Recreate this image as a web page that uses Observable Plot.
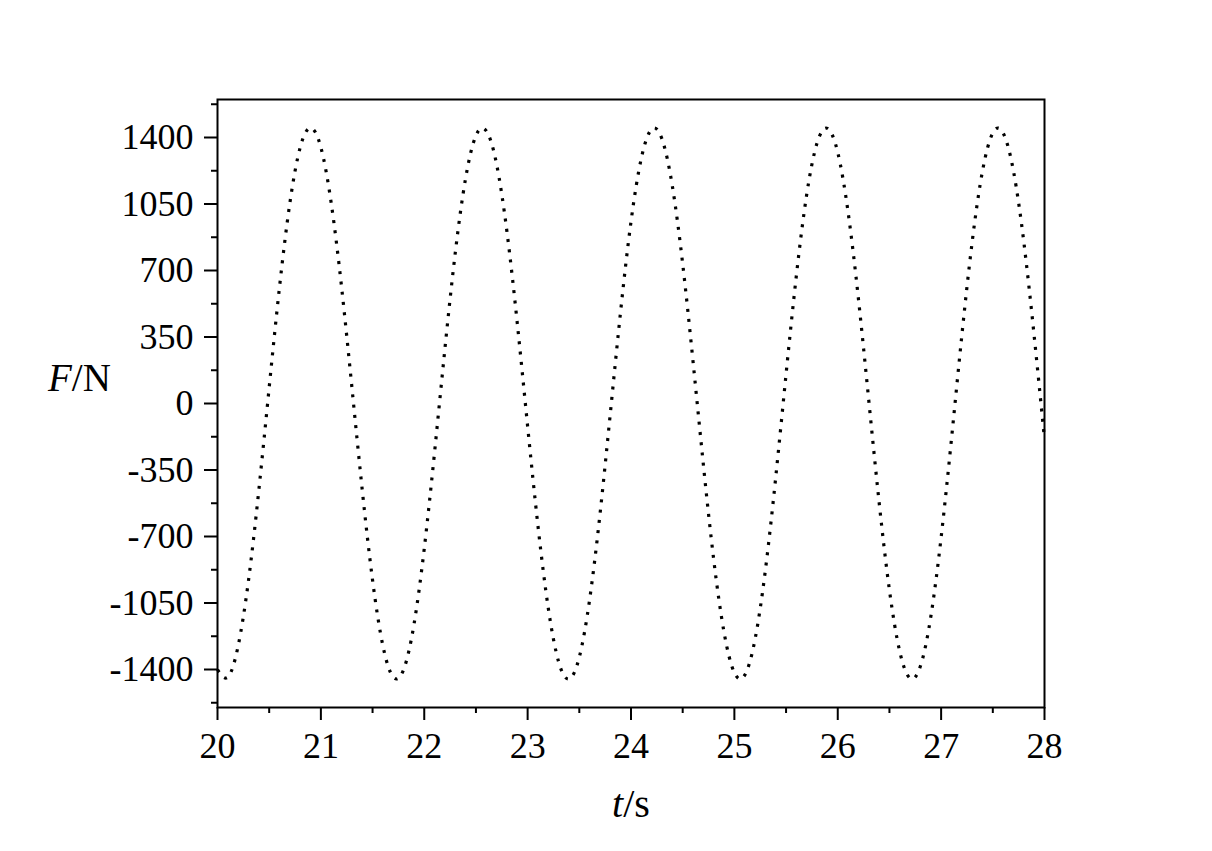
<!DOCTYPE html>
<html><head><meta charset="utf-8">
<script src="https://cdn.jsdelivr.net/npm/d3@7"></script>
<script src="https://cdn.jsdelivr.net/npm/@observablehq/plot@0.6"></script>
<style>body{margin:0;background:#fff;} svg{display:block}</style>
</head><body><div id="chart"></div>
<script>
// Sampling of the force trace: t = 20.0 s + i * 0.1 s
const tStart = 20;
const tStep = 0.1;
// F/N, one value every 0.1 s from t = 20.0 to 28.0
const forceN = [
  -1401, -1440, -1275, -931, -455, 85, 613, 1055, 1348, 1450,
  1348, 1055, 614, 86, -454, -930, -1275, -1440, -1401, -1165,
  -764, -256, 289, 793, 1185, 1410, 1435, 1259, 904, 422,
  -120, -644, -1078, -1360, -1450, -1335, -1031, -583, -52, 487,
  957, 1291, 1444, 1392, 1144, 735, 222, -322, -821, -1204,
  -1417, -1430, -1241, -877, -389, 154, 675, 1101, 1371, 1448,
  1321, 1007, 551, 17, -519, -982, -1306, -1446, -1382, -1123,
  -705, -188, 356, 849, 1223, 1424, 1424, 1223, 850, 356,
  -187
];
const xTicks = [20, 21, 22, 23, 24, 25, 26, 27, 28];
const xMinor = [20.5, 21.5, 22.5, 23.5, 24.5, 25.5, 26.5, 27.5];
const yTicks = [-1400, -1050, -700, -350, 0, 350, 700, 1050, 1400];
const yMinor = [-1575, -1225, -875, -525, -175, 175, 525, 875, 1225, 1575];

const data = forceN.map((F, i) => ({t: +(tStart + i * tStep).toFixed(2), F}));

const plot = Plot.plot({
  width: 1212, height: 851,
  marginLeft: 217, marginRight: 168, marginTop: 99, marginBottom: 144,
  style: {fontFamily: "'Liberation Serif', 'Times New Roman', serif", fontSize: "36px", color: "black", background: "white"},
  x: {domain: [20, 28]},
  y: {domain: [-1600, 1600]},
  marks: [
    Plot.axisX({ticks: xTicks, tickSize: 13, tickPadding: 12, strokeWidth: 2, label: null, tickFormat: d => String(d)}),
    Plot.axisX({ticks: xMinor, tickSize: 6, strokeWidth: 2, label: null, tickFormat: () => ""}),
    Plot.axisY({ticks: yTicks, tickSize: 13, tickPadding: 11, strokeWidth: 2, label: null, tickFormat: d => String(d)}),
    Plot.axisY({ticks: yMinor, tickSize: 6, strokeWidth: 2, label: null, tickFormat: () => ""}),
    Plot.frame({stroke: "black", strokeWidth: 2}),
    Plot.line(data, {x: "t", y: "F", curve: "natural", stroke: "black", strokeWidth: 3.2, strokeLinecap: "butt", strokeDasharray: "3,7.3"})
  ]
});

const svg = d3.select(plot);
const fy = svg.append("text").attr("x", 48).attr("y", 391).attr("text-anchor", "start")
  .style("font-size", "39px").style("font-family", "'Liberation Serif', serif").attr("fill", "black");
fy.append("tspan").attr("font-style", "italic").text("F");
fy.append("tspan").text("/N");
const tx = svg.append("text").attr("x", 612).attr("y", 817).attr("text-anchor", "start")
  .style("font-size", "40px").style("font-family", "'Liberation Serif', serif").attr("fill", "black");
tx.append("tspan").attr("font-style", "italic").text("t");
tx.append("tspan").text("/s");

document.getElementById("chart").appendChild(plot);
</script>
</body></html>
